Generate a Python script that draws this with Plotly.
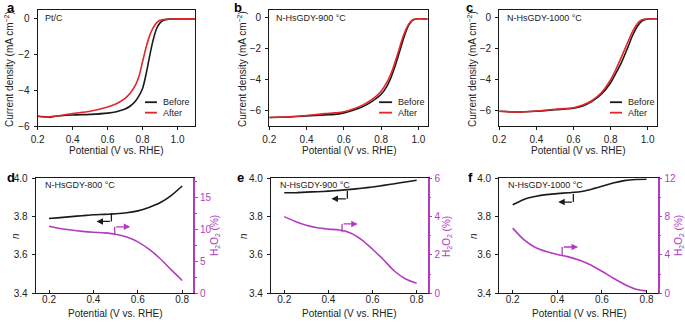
import plotly.graph_objects as go

W, H = 685, 323
FONT = "Liberation Sans, Arial, sans-serif"
BLACK = "#1a1a1a"
RED = "#e3262c"
MAG = "#b23cbf"

# ---------- Data ----------
# (a) Pt/C
a_before_x = [0.2, 0.25, 0.27, 0.3, 0.4, 0.5, 0.6, 0.65, 0.7, 0.73, 0.76, 0.78, 0.8, 0.82, 0.84, 0.86, 0.88, 0.9, 0.92, 0.95, 1.0, 1.1]
a_before_y = [-5.45, -5.48, -5.52, -5.45, -5.38, -5.35, -5.28, -5.2, -5.05, -4.88, -4.6, -4.3, -3.9, -3.1, -2.1, -1.2, -0.55, -0.22, -0.07, -0.01, 0.0, 0.0]
a_after_x = [0.2, 0.25, 0.3, 0.4, 0.5, 0.6, 0.65, 0.7, 0.73, 0.76, 0.78, 0.8, 0.82, 0.84, 0.86, 0.88, 0.9, 0.93, 1.0, 1.1]
a_after_y = [-5.45, -5.5, -5.45, -5.3, -5.17, -4.93, -4.75, -4.45, -4.15, -3.7, -3.2, -2.4, -1.6, -0.95, -0.5, -0.22, -0.08, -0.02, 0.0, 0.0]

# (b) N-HsGDY-900 °C
b_x = [0.2, 0.3, 0.4, 0.5, 0.55, 0.6, 0.65, 0.7, 0.75, 0.8, 0.83, 0.85, 0.87, 0.89, 0.91, 0.93, 0.95, 0.97, 1.0, 1.05]
b_before = [-6.45, -6.42, -6.35, -6.28, -6.25, -6.15, -5.98, -5.75, -5.42, -4.95, -4.45, -3.95, -3.3, -2.55, -1.75, -1.0, -0.45, -0.15, -0.07, -0.08]
b_after = [-6.45, -6.4, -6.32, -6.2, -6.15, -6.08, -5.9, -5.65, -5.3, -4.75, -4.2, -3.7, -3.05, -2.3, -1.5, -0.85, -0.38, -0.13, -0.07, -0.08]

# (c) N-HsGDY-1000 °C
c_x = [0.2, 0.3, 0.4, 0.5, 0.6, 0.65, 0.7, 0.75, 0.8, 0.83, 0.86, 0.89, 0.92, 0.95, 0.97, 1.0, 1.05]
c_before = [-6.05, -6.1, -6.05, -5.95, -5.85, -5.7, -5.4, -4.95, -4.2, -3.55, -2.85, -2.0, -1.1, -0.45, -0.2, -0.08, -0.07]
c_after = [-6.05, -6.1, -6.03, -5.92, -5.82, -5.65, -5.35, -4.85, -4.0, -3.3, -2.5, -1.65, -0.85, -0.3, -0.13, -0.08, -0.07]

# (d)-(f) electron transfer number n and H2O2 yield
rrde_x = [0.2, 0.25, 0.3, 0.35, 0.4, 0.45, 0.5, 0.55, 0.6, 0.65, 0.7, 0.75, 0.8]
d_n = [3.79, 3.795, 3.80, 3.805, 3.81, 3.812, 3.815, 3.82, 3.83, 3.848, 3.872, 3.91, 3.96]
d_h2o2 = [10.5, 10.15, 9.9, 9.7, 9.55, 9.45, 9.25, 8.8, 8.05, 6.9, 5.45, 3.7, 2.0]
e_n = [3.925, 3.925, 3.928, 3.93, 3.933, 3.937, 3.942, 3.948, 3.955, 3.963, 3.972, 3.981, 3.99]
e_h2o2 = [4.0, 3.75, 3.55, 3.42, 3.35, 3.3, 3.15, 2.8, 2.3, 1.75, 1.15, 0.75, 0.52]
f_n = [3.862, 3.89, 3.905, 3.915, 3.92, 3.925, 3.93, 3.942, 3.958, 3.975, 3.988, 3.994, 3.995]
f_h2o2 = [6.8, 5.6, 4.8, 4.35, 4.05, 3.8, 3.45, 2.95, 2.3, 1.6, 0.95, 0.45, 0.25]

top_labels = ["Pt/C", "N-HsGDY-900 °C", "N-HsGDY-1000 °C"]
bottom_labels = ["N-HsGDY-800 °C", "N-HsGDY-900 °C", "N-HsGDY-1000 °C"]
panel_letters = ["a", "b", "c", "d", "e", "f"]
legend_names = ["Before", "After"]

# ---------- Layout helpers ----------
def xd(l, r):
    return [l / W, r / W]

def yd(t, b):
    return [1 - b / H, 1 - t / H]

top_x = [(37.7, 195), (269.3, 427.7), (499.3, 657)]
bot_x = [(35.7, 193.3), (271, 427.7), (499.3, 657.7)]
top_y = (10, 126)
bot_y = (178.3, 293.3)

fig = go.Figure()
tickfont = dict(family=FONT, size=10, color="#222")

def line(color):
    return dict(color=color, width=1.6, shape="spline", smoothing=0.8)

# top traces
tops = [
    (a_before_x, a_before_y, a_after_x, a_after_y),
    (b_x, b_before, b_x, b_after),
    (c_x, c_before, c_x, c_after),
]
for i, (bx, by, ax_, ay_) in enumerate(tops):
    n = i + 1
    xa = "x" if n == 1 else f"x{n}"
    ya = "y" if n == 1 else f"y{n}"
    fig.add_trace(go.Scatter(x=bx, y=by, mode="lines", line=line(BLACK), xaxis=xa, yaxis=ya, showlegend=False))
    fig.add_trace(go.Scatter(x=ax_, y=ay_, mode="lines", line=line(RED), xaxis=xa, yaxis=ya, showlegend=False))

# bottom traces
bots = [(d_n, d_h2o2), (e_n, e_h2o2), (f_n, f_h2o2)]
for i, (nn, hh) in enumerate(bots):
    n = i + 4
    fig.add_trace(go.Scatter(x=rrde_x, y=nn, mode="lines", line=line(BLACK), xaxis=f"x{n}", yaxis=f"y{n}", showlegend=False))
    fig.add_trace(go.Scatter(x=rrde_x, y=hh, mode="lines", line=line(MAG), xaxis=f"x{n}", yaxis=f"y{n+3}", showlegend=False))

layout = dict(
    template="none",
    width=W, height=H, margin=dict(l=0, r=0, t=0, b=0, pad=0), autosize=False,
    paper_bgcolor="white", plot_bgcolor="white",
    font=dict(family=FONT, size=10, color="#222"),
    showlegend=False,
)

axis_common = dict(showline=True, linecolor=BLACK, linewidth=1.3, showgrid=False, zeroline=False,
                   ticks="outside", ticklen=3, tickwidth=1, tickcolor=BLACK, tickfont=tickfont,
                   automargin=False)

top_xranges = [[0.2, 1.1], [0.2, 1.05], [0.2, 1.05]]
top_yranges = [[-6, 0.5], [-7, 0.5], [-7, 0.5]]
for i in range(3):
    n = i + 1
    kx = "xaxis" if n == 1 else f"xaxis{n}"
    ky = "yaxis" if n == 1 else f"yaxis{n}"
    ya = "y" if n == 1 else f"y{n}"
    xa = "x" if n == 1 else f"x{n}"
    layout[kx] = dict(axis_common, domain=xd(*top_x[i]), range=top_xranges[i], anchor=ya,
                      tickvals=[0.2, 0.4, 0.6, 0.8, 1.0], ticktext=["0.2", "0.4", "0.6", "0.8", "1.0"],
                      mirror=True, ticklabelstandoff=1)
    layout[ky] = dict(axis_common, domain=yd(*top_y), range=top_yranges[i], anchor=xa,
                      tickvals=[0, -2, -4, -6], ticktext=["0", "−2", "−4", "−6"],
                      mirror=True, ticklabelstandoff=2)

right_ranges = [[0, 18], [0, 6], [0, 12]]
right_ticks = [[0, 5, 10, 15], [0, 2, 4, 6], [0, 4, 8, 12]]
right_minor = [2.5, 1, 2]
for i in range(3):
    n = i + 4
    layout[f"xaxis{n}"] = dict(axis_common, domain=xd(*bot_x[i]), range=[0.14, 0.85], anchor=f"y{n}",
                               tickvals=[0.2, 0.4, 0.6, 0.8], ticktext=["0.2", "0.4", "0.6", "0.8"],
                               mirror=True, ticks="inside", ticklabelstandoff=-3)
    layout[f"yaxis{n}"] = dict(axis_common, domain=yd(*bot_y), range=[3.4, 4.0], anchor=f"x{n}",
                               tickvals=[3.4, 3.6, 3.8, 4.0], ticktext=["3.4", "3.6", "3.8", "4.0"],
                               ticklabelstandoff=2)
    layout[f"yaxis{n+3}"] = dict(showline=True, linecolor=MAG, linewidth=1.5, showgrid=False, zeroline=False,
                                 ticks="outside", ticklen=3, tickwidth=1, tickcolor=MAG, automargin=False,
                                 tickfont=dict(family=FONT, size=10, color=MAG),
                                 overlaying=f"y{n}", side="right", anchor=f"x{n}",
                                 range=right_ranges[i], tickvals=right_ticks[i],
                                 ticktext=[str(v) for v in right_ticks[i]], ticklabelstandoff=0,
                                 minor=dict(dtick=right_minor[i], ticklen=2, tickcolor=MAG, ticks="outside"))

fig.update_layout(**layout)

ann = []
shapes = []

# panel letters
letter_pos = [(5, 7), (232, 7), (464, 7), (5, 177), (235, 177), (466, 177)]
for L, (px, py) in zip(panel_letters, letter_pos):
    ann.append(dict(text=f"<b>{L}</b>", x=px / W, y=1 - py / H, xref="paper", yref="paper",
                    xanchor="left", yanchor="middle", showarrow=False,
                    font=dict(family=FONT, size=13, color="black")))

# y axis titles (top)
for i, cx in enumerate([9, 242, 472]):
    ann.append(dict(text="Current density (mA cm<sup>−2</sup>)", x=cx / W, y=1 - 69 / H, xref="paper", yref="paper",
                    textangle=-90, showarrow=False, xanchor="center", yanchor="middle",
                    font=dict(family=FONT, size=10, color="#222")))
# x axis titles
for i in range(3):
    cx = (top_x[i][0] + top_x[i][1]) / 2
    ann.append(dict(text="Potential (V vs. RHE)", x=cx / W, y=1 - 150 / H, xref="paper", yref="paper",
                    showarrow=False, xanchor="center", yanchor="middle", font=dict(family=FONT, size=10, color="#222")))
    cx = (bot_x[i][0] + bot_x[i][1]) / 2
    ann.append(dict(text="Potential (V vs. RHE)", x=cx / W, y=1 - 313.5 / H, xref="paper", yref="paper",
                    showarrow=False, xanchor="center", yanchor="middle", font=dict(family=FONT, size=10, color="#222")))
# n and H2O2 titles
for cx in [15, 243, 473]:
    ann.append(dict(text="<i>n</i>", x=cx / W, y=1 - 236 / H, xref="paper", yref="paper", textangle=-90,
                    showarrow=False, xanchor="center", yanchor="middle", font=dict(family=FONT, size=10, color="#222")))
for cx in [215, 447, 679]:
    ann.append(dict(text="H<sub>2</sub>O<sub>2</sub> (%)", x=cx / W, y=1 - 236 / H, xref="paper", yref="paper",
                    textangle=-90, showarrow=False, xanchor="center", yanchor="middle",
                    font=dict(family=FONT, size=10, color=MAG)))

# inside labels
for i, (lab, px) in enumerate(zip(top_labels, [43, 274, 505])):
    ann.append(dict(text=lab, x=px / W, y=1 - 18 / H, xref="paper", yref="paper", xanchor="left", yanchor="middle",
                    showarrow=False, font=dict(family=FONT, size=9, color="#222")))
for i, (lab, px) in enumerate(zip(bottom_labels, [43, 278, 506])):
    ann.append(dict(text=lab, x=px / W, y=1 - 185 / H, xref="paper", yref="paper", xanchor="left", yanchor="middle",
                    showarrow=False, font=dict(family=FONT, size=9, color="#222")))

# legends (drawn in axis-domain coordinates)
for i in range(3):
    n = i + 1
    xr = "x domain" if n == 1 else f"x{n} domain"
    yr = "y domain" if n == 1 else f"y{n} domain"
    l0, l1, tx = [(0.682, 0.758, 0.783), (0.693, 0.775, 0.80), (0.702, 0.778, 0.803)][i]
    for name, color, yy in [(legend_names[0], BLACK, 0.205), (legend_names[1], RED, 0.115)]:
        shapes.append(dict(type="line", xref=xr, yref=yr, x0=l0, x1=l1, y0=yy, y1=yy,
                           line=dict(color=color, width=1.8)))
        ann.append(dict(text=name, x=tx, y=yy, xref=xr, yref=yr, xanchor="left", yanchor="middle",
                        showarrow=False, font=dict(family=FONT, size=9, color="#222")))

# arrows in bottom panels: (vertical x, y from, y to, horizontal end x) for n (left) and H2O2 (right)
n_arrows = [(0.481, 3.817, 3.775, 0.414), (0.486, 3.934, 3.893, 0.414), (0.472, 3.918, 3.876, 0.404)]
h_arrows = [(0.496, 9.27, 10.4, 0.566), (0.462, 3.18, 3.62, 0.533), (0.422, 3.92, 4.83, 0.493)]
for i in range(3):
    n = i + 4
    vx, y0, y1, hx = n_arrows[i]
    shapes.append(dict(type="line", xref=f"x{n}", yref=f"y{n}", x0=vx, x1=vx, y0=y0, y1=y1,
                       line=dict(color=BLACK, width=1.3)))
    ann.append(dict(x=hx, y=y1, ax=vx, ay=y1, xref=f"x{n}", yref=f"y{n}", axref=f"x{n}", ayref=f"y{n}",
                    showarrow=True, arrowhead=2, arrowsize=1, arrowwidth=1.3, arrowcolor=BLACK, text=""))
    vx, y0, y1, hx = h_arrows[i]
    shapes.append(dict(type="line", xref=f"x{n}", yref=f"y{n+3}", x0=vx, x1=vx, y0=y0, y1=y1,
                       line=dict(color=MAG, width=1.3)))
    ann.append(dict(x=hx, y=y1, ax=vx, ay=y1, xref=f"x{n}", yref=f"y{n+3}", axref=f"x{n}", ayref=f"y{n+3}",
                    showarrow=True, arrowhead=2, arrowsize=1, arrowwidth=1.3, arrowcolor=MAG, text=""))

fig.update_layout(annotations=ann, shapes=shapes)
fig.write_html("out.html", config={"displayModeBar": False},
               post_script="document.body.style.margin='0';document.body.style.padding='0';")
